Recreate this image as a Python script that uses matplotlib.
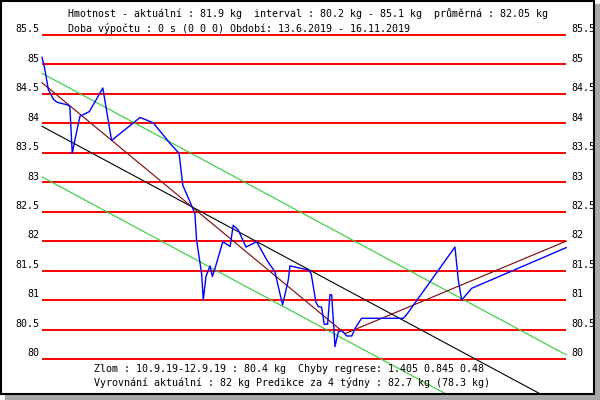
import matplotlib
matplotlib.use("Agg")
import matplotlib.pyplot as plt
from matplotlib.patches import Rectangle
from matplotlib.transforms import offset_copy

# weight series (days since 13.6.2019, kg)
days = [
    0, 0.7, 1.9, 3.4, 4.4, 7.8, 8.3, 9.0, 9.8, 11.3,
    14.1, 18.1, 20.7, 29.2, 33.1, 38.1, 40.8, 41.9, 43.8, 45.5,
    46.0, 47.5, 48.0, 48.8, 50.0, 50.7, 51.5, 53.8, 56.0, 56.9,
    58.4, 60.7, 63.9, 66.9, 69.3, 71.6, 73.3, 73.8, 79.3, 80.1,
    81.5, 82.2, 83.2, 84.0, 85.0, 85.7, 86.2, 86.7, 87.2, 88.2,
    89.2, 90.7, 92.2, 93.2, 95.1, 107.5, 108.5, 122.9, 123.9, 124.9,
    127.9, 156,
]
weights = [
    85.12, 84.96, 84.57, 84.41, 84.36, 84.31, 84.28, 83.49, 83.72, 84.12,
    84.20, 84.60, 83.71, 84.10, 84.01, 83.66, 83.49, 82.95, 82.70, 82.47,
    82.02, 81.45, 81.00, 81.40, 81.58, 81.40, 81.54, 81.99, 81.91, 82.27,
    82.19, 81.90, 81.99, 81.68, 81.48, 80.92, 81.34, 81.58, 81.51, 81.45,
    80.97, 80.89, 80.88, 80.59, 80.59, 81.09, 81.09, 80.66, 80.21, 80.46,
    80.48, 80.39, 80.39, 80.52, 80.69, 80.69, 80.75, 81.90, 81.34, 81.00,
    81.20, 81.89,
]

# regression lines
trend_days = [0, 156]
trend_kg = [83.95, 79.17]
band_hi = [84.85, 80.07]
band_lo = [83.09, 78.31]

# broken regression (zlom)
break_days = [0, 90.2, 156]
break_kg = [84.69, 80.43, 82.0]

levels = [80, 80.5, 81, 81.5, 82, 82.5, 83, 83.5, 84, 84.5, 85, 85.5]
level_labels = ["80", "80.5", "81", "81.5", "82", "82.5",
                "83", "83.5", "84", "84.5", "85", "85.5"]

header = [
    "Hmotnost - aktuální : 81.9 kg  interval : 80.2 kg - 85.1 kg"
    "  průměrná : 82.05 kg",
    "Doba výpočtu : 0 s (0 0 0) Období: 13.6.2019 - 16.11.2019",
]
footer = [
    "Zlom : 10.9.19-12.9.19 : 80.4 kg  Chyby regrese: 1.405 0.845 0.48",
    "Vyrovnání aktuální : 82 kg Predikce za 4 týdny : 82.7 kg (78.3 kg)",
]

W, H = 600, 400
X0, PX_DAY = 42, 3.36
Y_TOP, PX_KG = 35, 58.9
FONT = dict(family="DejaVu Sans Mono", fontsize=7.2, color="black")

fig = plt.figure(figsize=(6, 4), dpi=100)
ax = fig.add_axes([0, 0, 1, 1])
ax.set_xlim(-X0 / PX_DAY, (W - X0) / PX_DAY)
ax.set_ylim(85.5 - (H - Y_TOP) / PX_KG, 85.5 + Y_TOP / PX_KG)
ax.axis("off")


def px(x, y):
    return x / W, 1 - y / H


# window frame with shadow
fig.patches.append(Rectangle(px(595, 400), 5 / W, 396 / H,
                             transform=fig.transFigure,
                             color="#a8a8a8", zorder=0))
fig.patches.append(Rectangle(px(5, 400), 595 / W, 5 / H,
                             transform=fig.transFigure,
                             color="#a8a8a8", zorder=0))

ax.hlines(levels, 0, 156, colors="#ff0000", lw=1.4, zorder=2)

left_tr = offset_copy(ax.transData, fig, x=-3, y=5.7, units="dots")
right_tr = offset_copy(ax.transData, fig, x=5, y=5.7, units="dots")
for lev, lab in zip(levels, level_labels):
    ax.text(0, lev, lab, transform=left_tr, ha="right", va="center",
            zorder=1, **FONT)
    ax.text(156, lev, lab, transform=right_tr, ha="left", va="center",
            zorder=1, **FONT)

ax.plot(trend_days, band_hi, color="#33cc33", lw=0.8, zorder=3,
        clip_on=False)
ax.plot(trend_days, band_lo, color="#33cc33", lw=0.8, zorder=3,
        clip_on=False)
ax.plot(trend_days, trend_kg, color="black", lw=0.8, zorder=3,
        clip_on=False)
ax.plot(break_days, break_kg, color="#800000", lw=0.8, zorder=4)
ax.plot(days, weights, color="#0000ff", lw=1.0, zorder=5)

for i, line in enumerate(header):
    fig.text(*px(68, 14 + i * 15), line, va="center", ha="left", **FONT)
for i, line in enumerate(footer):
    fig.text(*px(93.5, 369 + i * 14), line, va="center", ha="left", **FONT)

# black outline drawn on top so that labels get cut at the edge
fig.patches.append(Rectangle(px(1, 393.5), 593 / W, 392.5 / H,
                             transform=fig.transFigure, fill=False,
                             edgecolor="black", lw=1.5, zorder=2.5))

fig.savefig("out.png", dpi=100)
